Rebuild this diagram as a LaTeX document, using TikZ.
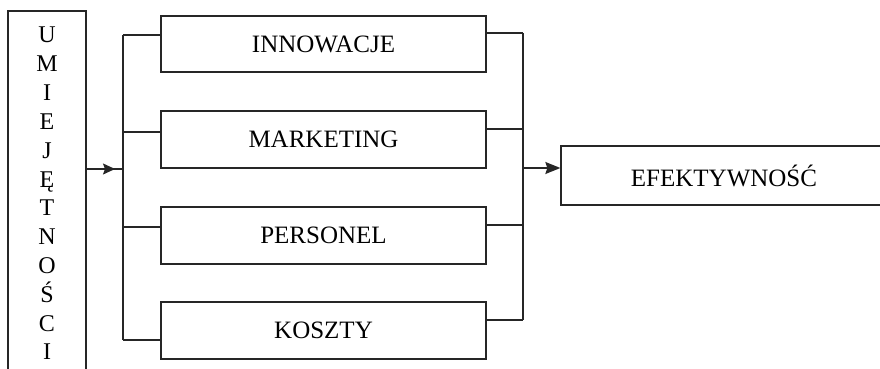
\documentclass[tikz,border=0pt]{standalone}
\usepackage{fontspec}
\setmainfont{Liberation Serif}
\usetikzlibrary{arrows.meta}
\begin{document}
\begin{tikzpicture}[x=1pt,y=-1pt,
  ln/.style={line width=1.3pt,draw=black!85},
  boxn/.style={ln,rectangle,inner sep=0pt,font=\fontsize{25}{28}\selectfont},
  letter/.style={inner sep=0pt,anchor=base,font=\fontsize{24}{27}\selectfont},
  tipl/.style={-{Stealth[length=12pt,width=11pt,inset=2pt]}},
  tipr/.style={-{Stealth[length=15pt,width=12pt,inset=2pt]}}]
\useasboundingbox (0,0) rectangle (880,369);
\clip (0,0) rectangle (880,369);
\fill[white] (0,0) rectangle (880,369);
% left tall box (open at bottom, beyond picture)
\node[boxn,minimum width=78pt,minimum height=430pt] (U) at (47,226) {};
\foreach \l [count=\i] in {U,M,I,E,J,Ę,T,N,O,Ś,C,I}{
  \node[letter] (u\i) at (47,{35+(\i-1)*28.8+8}) {\l};
}
% four middle boxes
\node[boxn,minimum width=325pt,minimum height=56pt] (inn) at (323.5,44) {INNOWACJE};
\node[boxn,minimum width=325pt,minimum height=57pt] (mar) at (323.5,139.5) {MARKETING};
\node[boxn,minimum width=325pt,minimum height=57pt] (per) at (323.5,235.5) {PERSONEL};
\node[boxn,minimum width=325pt,minimum height=57pt] (kos) at (323.5,330.5) {KOSZTY};
% right box
\node[boxn,minimum width=326pt,minimum height=59pt] (efe) at (724,175.5) {EFEKTYWNOŚĆ};
% bus coordinates
\coordinate (lt) at (123,35);
\coordinate (l2) at (123,132);
\coordinate (l3) at (123,227);
\coordinate (lb) at (123,340);
\coordinate (lin) at (123,169);
\coordinate (rt) at (523,33);
\coordinate (r2) at (523,129);
\coordinate (r3) at (523,225);
\coordinate (rb) at (523,320);
\coordinate (rout) at (523,168);
% left bus and branches
\draw[ln] (lt) -- (lb);
\draw[ln] (lt) -- (lt -| inn.west);
\draw[ln] (l2) -- (l2 -| mar.west);
\draw[ln] (l3) -- (l3 -| per.west);
\draw[ln] (lb) -- (lb -| kos.west);
% right bus and branches
\draw[ln] (rt) -- (rb);
\draw[ln] (rt -| inn.east) -- (rt);
\draw[ln] (r2 -| mar.east) -- (r2);
\draw[ln] (r3 -| per.east) -- (r3);
\draw[ln] (rb -| kos.east) -- (rb);
% arrows
\draw[ln] (lin -| U.east) -- (lin);
\draw[ln,tipl,shorten >=8pt] (lin -| U.east) -- (lin);
\draw[ln,tipr] (rout) -- (rout -| efe.west);
\end{tikzpicture}
\end{document}
